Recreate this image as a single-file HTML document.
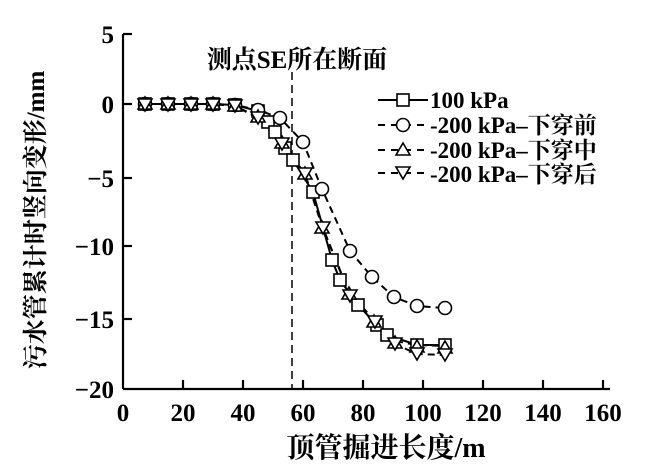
<!DOCTYPE html>
<html><head><meta charset="utf-8"><style>
body{margin:0;background:#fff}
svg{display:block}
text{font-family:"Liberation Serif","Noto Serif CJK SC",serif;font-weight:bold;fill:#000}
</style></head><body>
<svg width="650" height="467" viewBox="0 0 650 467" xmlns="http://www.w3.org/2000/svg">
<g stroke="#000" stroke-width="2.2" fill="none">
<line x1="123" y1="34" x2="123" y2="389"/>
<line x1="123" y1="389" x2="610" y2="389"/>
<line x1="183" y1="389" x2="183" y2="380"/><line x1="243" y1="389" x2="243" y2="380"/><line x1="303" y1="389" x2="303" y2="380"/><line x1="363" y1="389" x2="363" y2="380"/><line x1="423" y1="389" x2="423" y2="380"/><line x1="483" y1="389" x2="483" y2="380"/><line x1="543" y1="389" x2="543" y2="380"/><line x1="603" y1="389" x2="603" y2="380"/>
<line x1="123" y1="34" x2="132" y2="34"/><line x1="123" y1="104" x2="132" y2="104"/><line x1="123" y1="178" x2="132" y2="178"/><line x1="123" y1="246" x2="132" y2="246"/><line x1="123" y1="319" x2="132" y2="319"/>
</g>
<line x1="292" y1="72" x2="292" y2="389" stroke="#000" stroke-width="1.5" stroke-dasharray="8,5"/>
<g font-size="25" text-anchor="middle">
<text x="123" y="421">0</text><text x="183" y="421">20</text><text x="243" y="421">40</text><text x="303" y="421">60</text><text x="363" y="421">80</text><text x="423" y="421">100</text><text x="483" y="421">120</text><text x="543" y="421">140</text><text x="603" y="421">160</text>
</g>
<g font-size="25" text-anchor="end">
<text x="114" y="43">5</text><text x="114" y="113">0</text><text x="114" y="187">−5</text><text x="114" y="255">−10</text><text x="114" y="328">−15</text><text x="114" y="398">−20</text>
</g>
<text x="386" y="457" font-size="28" text-anchor="middle">顶管掘进长度/m</text>
<text transform="translate(44,220) rotate(-90)" font-size="25" text-anchor="middle">污水管累计时竖向变形/mm</text>
<text x="297" y="68" font-size="25" text-anchor="middle">测点SE所在断面</text>

<g stroke="#000" stroke-width="2" fill="none">
<polyline stroke-dasharray="7,5" points="145,104 168,104 191,104 213,104 235,105 258,110 280,118 303,142 322,189 350,251 372,277 394,297 417,306 445,308"/>
<polyline points="145,104 168,104 191,104 213,104 235,105 258,111 268,122 275,132 285,148 293,160 313,192 332,260 340,280 358,305 377,325 387,335 417,345 445,345"/>
<polyline stroke-dasharray="7,5" points="145,104 168,104 191,104 213,104 235,106 258,117 282,142 305,174 322,226 349,292 374,320 395,341 417,345 445,346"/>
<polyline stroke-dasharray="7,5" points="145,104 168,104 191,104 213,104 235,106 258,118 282,144 305,174 323,228 350,296 375,322 395,344 417,354 445,355"/>
</g>
<g stroke="#000" stroke-width="1.6" fill="#fff">
<g>
<rect x="139" y="98" width="12" height="12"/><rect x="162" y="98" width="12" height="12"/><rect x="185" y="98" width="12" height="12"/><rect x="207" y="98" width="12" height="12"/><rect x="229" y="99" width="12" height="12"/><rect x="252" y="105" width="12" height="12"/>
<rect x="262" y="116" width="12" height="12"/><rect x="269" y="126" width="12" height="12"/><rect x="279" y="142" width="12" height="12"/><rect x="287" y="154" width="12" height="12"/><rect x="307" y="186" width="12" height="12"/><rect x="326" y="254" width="12" height="12"/><rect x="334" y="274" width="12" height="12"/><rect x="352" y="299" width="12" height="12"/><rect x="371" y="319" width="12" height="12"/><rect x="381" y="329" width="12" height="12"/><rect x="411" y="339" width="12" height="12"/><rect x="439" y="339" width="12" height="12"/>
</g>
<g>
<circle cx="145" cy="104" r="6.5"/><circle cx="168" cy="104" r="6.5"/><circle cx="191" cy="104" r="6.5"/><circle cx="213" cy="104" r="6.5"/><circle cx="235" cy="105" r="6.5"/><circle cx="258" cy="110" r="6.5"/><circle cx="280" cy="118" r="6.5"/><circle cx="303" cy="142" r="6.5"/><circle cx="322" cy="189" r="6.5"/><circle cx="350" cy="251" r="6.5"/><circle cx="372" cy="277" r="6.5"/><circle cx="394" cy="297" r="6.5"/><circle cx="417" cy="306" r="6.5"/><circle cx="445" cy="308" r="6.5"/>
</g>
<path d="M145,97 l7,12 h-14z M168,97 l7,12 h-14z M191,97 l7,12 h-14z M213,97 l7,12 h-14z M235,99 l7,12 h-14z M258,110 l7,12 h-14z M282,136 l7,12 h-14z M305,167 l7,12 h-14z M322,221 l7,12 h-14z M349,287 l7,12 h-14z M374,315 l7,12 h-14z M395,336 l7,12 h-14z M417,340 l7,12 h-14z M445,341 l7,12 h-14z"/>
<path d="M138,99 h14 l-7,12z M161,99 h14 l-7,12z M184,99 h14 l-7,12z M206,99 h14 l-7,12z M228,100 h14 l-7,12z M251,112 h14 l-7,12z M275,138 h14 l-7,12z M298,168 h14 l-7,12z M316,222 h14 l-7,12z M343,290 h14 l-7,12z M368,316 h14 l-7,12z M388,338 h14 l-7,12z M410,348 h14 l-7,12z M438,349 h14 l-7,12z"/>
</g>
<g stroke="#000" stroke-width="2" fill="#fff">
<line x1="378" y1="100" x2="428" y2="100"/>
<rect x="397" y="94" width="12" height="12" stroke-width="1.6"/>
<line x1="378" y1="125" x2="428" y2="125" stroke-dasharray="7,6"/>
<circle cx="403" cy="125" r="6.5" stroke-width="1.6"/>
<line x1="378" y1="150" x2="428" y2="150" stroke-dasharray="7,6"/>
<path d="M403,143 l7,12 h-14z" stroke-width="1.6"/>
<line x1="378" y1="173" x2="428" y2="173" stroke-dasharray="7,6"/>
<path d="M396,167 h14 l-7,12z" stroke-width="1.6"/>
</g>
<g font-size="23">
<text x="430" y="108">100 kPa</text>
<text x="430" y="133">-200 kPa–下穿前</text>
<text x="430" y="158">-200 kPa–下穿中</text>
<text x="430" y="182">-200 kPa–下穿后</text>
</g>
</svg>
</body></html>
